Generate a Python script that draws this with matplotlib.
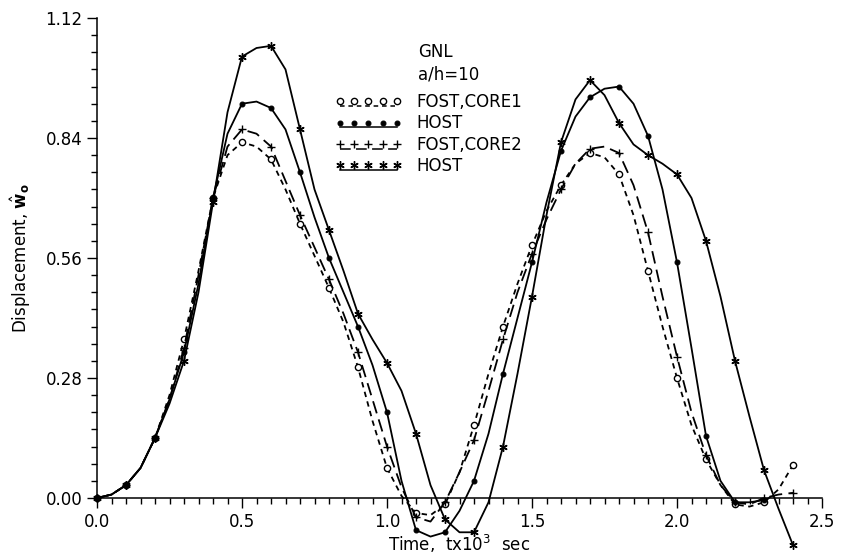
import numpy as np
import matplotlib
matplotlib.use("Agg")
from matplotlib import pyplot as plt
from matplotlib.lines import Line2D
from matplotlib.legend_handler import HandlerLine2DCompound
from matplotlib.ticker import MultipleLocator, FormatStrFormatter


# time axis (x10^3 sec), values read every 0.05
time = [0.00, 0.05, 0.10, 0.15, 0.20, 0.25, 0.30, 0.35, 0.40, 0.45,
        0.50, 0.55, 0.60, 0.65, 0.70, 0.75, 0.80, 0.85, 0.90, 0.95,
        1.00, 1.05, 1.10, 1.15, 1.20, 1.25, 1.30, 1.35, 1.40, 1.45,
        1.50, 1.55, 1.60, 1.65, 1.70, 1.75, 1.80, 1.85, 1.90, 1.95,
        2.00, 2.05, 2.10, 2.15, 2.20, 2.25, 2.30, 2.35, 2.40]

fost_core1 = [0.000, 0.008, 0.030, 0.070, 0.140, 0.240, 0.370, 0.530, 0.700, 0.800,
              0.830, 0.820, 0.790, 0.720, 0.640, 0.565, 0.490, 0.410, 0.305, 0.180,
              0.070, 0.005, -0.035, -0.040, -0.015, 0.060, 0.170, 0.290, 0.400, 0.500,
              0.590, 0.670, 0.730, 0.780, 0.805, 0.795, 0.755, 0.660, 0.530, 0.400,
              0.280, 0.170, 0.090, 0.030, -0.015, -0.020, -0.010, 0.020, 0.077]

host1 = [0.000, 0.008, 0.030, 0.070, 0.140, 0.230, 0.340, 0.500, 0.700, 0.850,
         0.920, 0.925, 0.910, 0.860, 0.760, 0.655, 0.560, 0.480, 0.400, 0.310,
         0.200, 0.040, -0.075, -0.090, -0.080, -0.030, 0.040, 0.150, 0.290, 0.420,
         0.550, 0.690, 0.810, 0.890, 0.935, 0.955, 0.960, 0.920, 0.845, 0.720,
         0.550, 0.350, 0.145, 0.040, -0.010, -0.010, -0.005]

fost_core2 = [0.000, 0.008, 0.030, 0.070, 0.140, 0.230, 0.350, 0.520, 0.700, 0.820,
              0.860, 0.850, 0.820, 0.740, 0.660, 0.585, 0.510, 0.430, 0.340, 0.230,
              0.120, 0.025, -0.045, -0.055, -0.010, 0.060, 0.135, 0.250, 0.370, 0.480,
              0.570, 0.650, 0.720, 0.780, 0.815, 0.820, 0.805, 0.730, 0.620, 0.470,
              0.330, 0.200, 0.100, 0.030, -0.010, -0.015, 0.000, 0.008, 0.012]

host2 = [0.000, 0.008, 0.030, 0.070, 0.140, 0.220, 0.320, 0.480, 0.690, 0.900,
         1.030, 1.050, 1.055, 1.000, 0.860, 0.720, 0.625, 0.530, 0.430, 0.370,
         0.315, 0.250, 0.150, 0.030, -0.050, -0.080, -0.080, -0.010, 0.120, 0.290,
         0.470, 0.660, 0.830, 0.930, 0.975, 0.940, 0.875, 0.825, 0.800, 0.780,
         0.755, 0.700, 0.600, 0.470, 0.320, 0.190, 0.065, -0.025, -0.110]

labels = ["FOST,CORE1", "HOST", "FOST,CORE2", "HOST"]


class UnderlineHandler(HandlerLine2DCompound):
    # legend sample with the line drawn a little under the marker row
    def create_artists(self, legend, orig_handle, xdescent, ydescent,
                       width, height, fontsize, trans):
        arts = super().create_artists(legend, orig_handle, xdescent, ydescent,
                                      width, height, fontsize, trans)
        line = arts[0]
        line.set_ydata(np.asarray(line.get_ydata()) - 3.5)
        return arts


plt.rcParams['font.family'] = ['DejaVu Sans']
fig = plt.figure(figsize=(8.46, 5.55), dpi=100)
ax = fig.add_axes([97 / 846, 57 / 555, 725 / 846, 480 / 555])

styles = [
    dict(ls=(0, (3, 2.5)), marker='o', ms=4.5, mfc='white', mew=1.0),
    dict(ls='-', marker='o', ms=3.5, mfc='black', mew=0.8),
    dict(ls=(0, (7, 3.5)), marker='+', ms=6, mfc='none', mew=1.0),
    dict(ls='-', marker=(6, 2, 0), ms=6, mfc='none', mew=1.0),
]
series = [fost_core1, host1, fost_core2, host2]

handles = []
for vals, st, lab in zip(series, styles, labels):
    ax.plot(time[:len(vals)], vals, color='black', lw=1.3, markevery=2,
            clip_on=False, zorder=3, **st)
    handles.append(Line2D([], [], color='black', lw=1.1, **st))

ax.set_xlim(0, 2.5)
ax.set_ylim(0, 1.12)
ax.xaxis.set_major_locator(MultipleLocator(0.5))
ax.xaxis.set_minor_locator(MultipleLocator(0.05))
ax.yaxis.set_major_locator(MultipleLocator(0.28))
ax.yaxis.set_minor_locator(MultipleLocator(0.04))
ax.xaxis.set_major_formatter(FormatStrFormatter('%.1f'))
ax.yaxis.set_major_formatter(FormatStrFormatter('%.2f'))
ax.tick_params(which='major', direction='out', length=7, width=1, labelsize=12)
ax.tick_params(which='minor', direction='out', length=4.5, width=1)
for s in ['top', 'right']:
    ax.spines[s].set_visible(False)
for s in ['left', 'bottom']:
    ax.spines[s].set_linewidth(1.1)

ax.set_xlabel(r"Time,  tx10$^{3}$  sec", fontsize=12, labelpad=2)
ax.set_ylabel(r"Displacement, $\hat{\mathbf{w}}_{\mathbf{o}}$", fontsize=12, labelpad=9)

ax.text(1.107, 1.04, "GNL", fontsize=12, va='center')
ax.text(1.107, 0.987, "a/h=10", fontsize=12, va='center')
ax.legend(handles, labels, loc='upper left', bbox_to_anchor=(335 / 846, 1 - 93 / 555),
          bbox_transform=fig.transFigure, frameon=False, numpoints=5,
          handlelength=4.0, handletextpad=0.9, labelspacing=0.2,
          borderpad=0, borderaxespad=0, fontsize=12,
          handler_map={Line2D: UnderlineHandler()})

fig.savefig("out.png", dpi=100)
